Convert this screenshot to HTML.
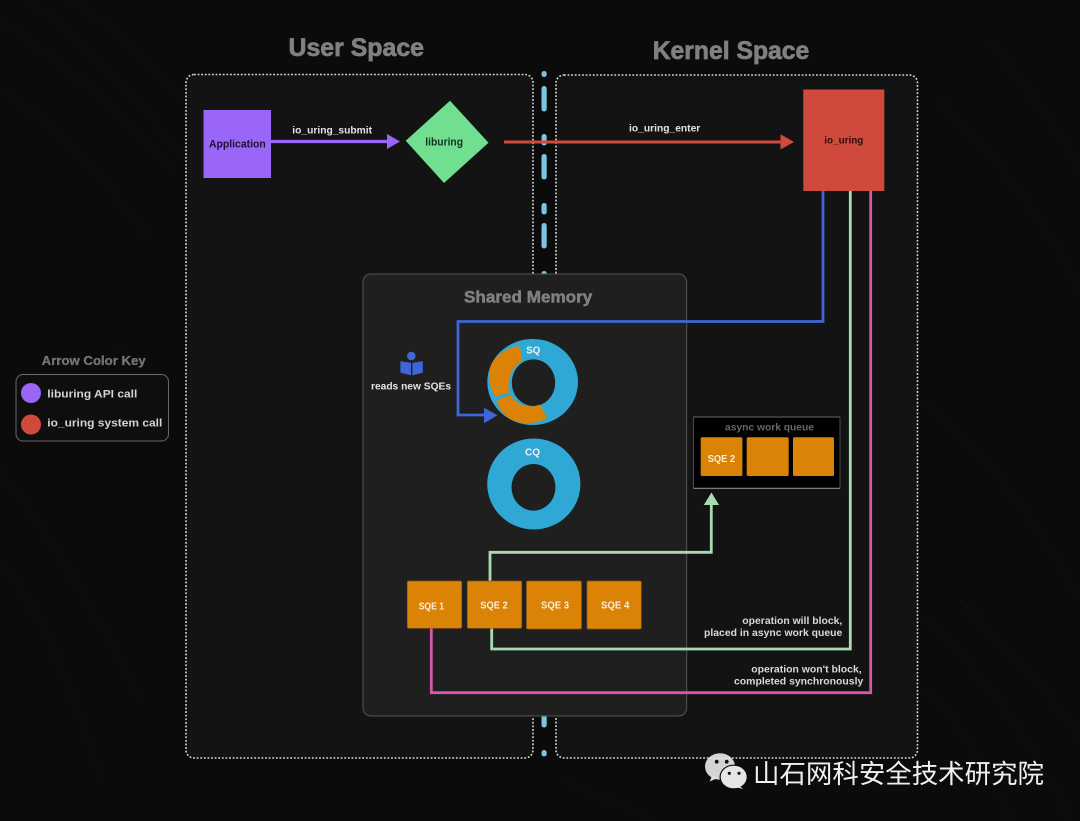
<!DOCTYPE html>
<html>
<head>
<meta charset="utf-8">
<style>
html,body{margin:0;padding:0;background:#0b0b0b;width:1080px;height:821px;overflow:hidden}
svg{display:block;filter:blur(.35px)}
text{font-family:"Liberation Sans","Noto Sans CJK SC",sans-serif;font-weight:700}
.h{stroke:#808080;stroke-width:.7;paint-order:stroke}
</style>
</head>
<body>
<svg width="1080" height="821" viewBox="0 0 1080 821" xmlns="http://www.w3.org/2000/svg">
<rect width="1080" height="821" fill="#0b0b0b"/>
<!-- faint background arcs -->
<g fill="none" stroke="#fff" stroke-opacity=".025" stroke-width="1">
<path d="M0 20C60 60 120 110 170 170"/><path d="M30 0C90 50 140 100 185 160"/><path d="M70 0C120 30 160 70 205 130"/>
<path d="M0 90C50 120 100 170 150 240"/><path d="M0 470C40 520 90 600 140 700"/><path d="M0 560C40 610 70 680 100 780"/>
<path d="M925 620C970 660 1030 730 1070 821"/><path d="M925 690C960 720 990 770 1010 821"/><path d="M960 600C1000 640 1050 690 1080 740"/>
<path d="M940 100C980 140 1040 210 1080 290"/><path d="M990 40C1020 80 1060 130 1080 170"/><path d="M925 400C970 440 1040 520 1080 600"/>
<path d="M120 345C135 365 150 380 170 410"/><path d="M560 780C600 795 630 810 650 821"/>
</g>
<!-- panels -->
<rect x="186" y="74.5" width="347" height="683.5" rx="8" fill="#131313" stroke="#d8d8d8" stroke-width="1.6" stroke-dasharray="1.8 1.8"/>
<rect x="556" y="75" width="361.5" height="683" rx="8" fill="#131313" stroke="#d8d8d8" stroke-width="1.6" stroke-dasharray="1.8 1.8"/>
<!-- centre dashes -->
<g fill="#7cc4df">
<rect x="541.5" y="71" width="5.2" height="6" rx="2.5"/><rect x="541.5" y="86" width="5.2" height="25.5" rx="2.5"/>
<rect x="541.5" y="134" width="5.2" height="11.5" rx="2.5"/><rect x="541.5" y="154" width="5.2" height="25.5" rx="2.5"/>
<rect x="541.5" y="203" width="5.2" height="11.5" rx="2.5"/><rect x="541.5" y="223" width="5.2" height="25.5" rx="2.5"/>
<rect x="541.5" y="271" width="5.2" height="11.5" rx="2.5"/>
<rect x="541.5" y="702" width="5.2" height="25.5" rx="2.5"/><rect x="541.5" y="750" width="5.2" height="6.5" rx="2.5"/>
</g>
<!-- titles -->
<text class="h" x="288.5" y="56" font-size="25" fill="#808080" textLength="135.5" lengthAdjust="spacingAndGlyphs">User Space</text>
<text class="h" x="652.7" y="59" font-size="25" fill="#808080" textLength="156.6" lengthAdjust="spacingAndGlyphs">Kernel Space</text>
<!-- top row -->
<rect x="203.5" y="110" width="67.5" height="68" fill="#9966f8"/>
<text x="209" y="147.7" font-size="11" fill="#1c1330" textLength="56.7" lengthAdjust="spacingAndGlyphs">Application</text>
<path d="M271 141.5H388" stroke="#9966f8" stroke-width="3.2" fill="none"/>
<path d="M387 134L400 141.5L387 149Z" fill="#9966f8"/>
<text x="292.3" y="133.3" font-size="10.5" fill="#e4e4e4" textLength="79.7" lengthAdjust="spacingAndGlyphs">io_uring_submit</text>
<path d="M450 100.7L488.5 142.7L444 183L405.7 140.7Z" fill="#70e090"/>
<text x="425.3" y="145.7" font-size="11" fill="#14301e" textLength="37.7" lengthAdjust="spacingAndGlyphs">liburing</text>
<path d="M504 142H782" stroke="#cf4a3c" stroke-width="3" fill="none"/>
<path d="M780.5 134.2L794 142L780.5 149.5Z" fill="#cf4a3c"/>
<text x="629" y="131.7" font-size="10.5" fill="#e4e4e4" textLength="71.3" lengthAdjust="spacingAndGlyphs">io_uring_enter</text>
<rect x="803.3" y="89.5" width="81" height="101.5" fill="#cf4a3c"/>
<text x="824.3" y="143.3" font-size="10.5" fill="#2a0f0b" font-weight="400" textLength="39" lengthAdjust="spacingAndGlyphs">io_uring</text>
<!-- shared memory -->
<rect x="363" y="274" width="323.7" height="442" rx="8" fill="#1f1f1f" stroke="#555" stroke-width="1"/>
<text class="h" x="464" y="302.7" font-size="16.5" fill="#808080" textLength="128.3" lengthAdjust="spacingAndGlyphs" style="stroke-width:.5">Shared Memory</text>
<!-- donuts -->
<path fill-rule="evenodd" fill="#30a8d6" d="M487.3 382a45.3 43 0 1 0 90.7 0a45.3 43 0 1 0 -90.7 0ZM511.8 382.7a21.7 23.3 0 1 0 43.4 0a21.7 23.3 0 1 0 -43.4 0Z"/>
<path fill="#da8306" stroke="#da8306" stroke-width="1.5" stroke-linejoin="round" d="M519 346.5L521.7 360.5C512 366 506 378 508.3 392L495.5 396C483 372 491 353 519 346.5Z"/>
<path fill="#da8306" stroke="#da8306" stroke-width="1.5" stroke-linejoin="round" d="M497.5 400.8L510 396C516 405 528 410 539.5 405.5L546.2 417.5C530 427 504 424 497.5 400.8Z"/>
<path fill-rule="evenodd" fill="#30a8d6" d="M487.2 484a46.6 45.5 0 1 0 93.2 0a46.6 45.5 0 1 0 -93.2 0ZM511.5 487.3a22 23.3 0 1 0 44 0a22 23.3 0 1 0 -44 0Z"/>
<text x="526.3" y="353.3" font-size="10.5" fill="#f2f2f2" textLength="14" lengthAdjust="spacingAndGlyphs">SQ</text>
<text x="525" y="455.3" font-size="10.5" fill="#f2f2f2" textLength="15" lengthAdjust="spacingAndGlyphs">CQ</text>
<!-- book icon -->
<circle cx="411.3" cy="356" r="4.3" fill="#3f66d6"/>
<path d="M400.7 361.5L410.7 363V375L400.7 372.5Z M412.7 363L422.5 361.5V372.5L412.7 375Z" fill="#3f66d6" stroke="#3f66d6" stroke-width=".6" stroke-linejoin="round"/>
<text x="371" y="389.3" font-size="10.5" fill="#e4e4e4" textLength="80" lengthAdjust="spacingAndGlyphs">reads new SQEs</text>
<!-- async queue -->
<rect x="693.5" y="417" width="146.5" height="71.5" rx="1" fill="#000" stroke="#4a4a4a" stroke-width="1"/>
<path d="M693.5 488.3H840" stroke="#8a8a8a" stroke-width="1"/>
<path d="M693.5 417H840" stroke="#666" stroke-width="1"/>
<text x="725" y="430.3" font-size="10.5" fill="#666" font-weight="400" textLength="89" lengthAdjust="spacingAndGlyphs">async work queue</text>
<g fill="#da8306">
<rect x="700.7" y="437.3" width="41.7" height="38.7" rx="1.5"/>
<rect x="746.7" y="437.3" width="42" height="38.7" rx="1.5"/>
<rect x="793" y="437.3" width="41" height="38.7" rx="1.5"/>
</g>
<text x="707.7" y="462" font-size="10.5" fill="#fbeedd" textLength="27.3" lengthAdjust="spacingAndGlyphs">SQE 2</text>
<!-- connectors -->
<path d="M823 191V321.5H458V415H486" fill="none" stroke="#3f66d6" stroke-width="2.8"/>
<path d="M484 407.7L497.5 415.3L484 423.2Z" fill="#3f66d6"/>
<path d="M850.3 191V649H491.7V628" fill="none" stroke="#a8dcb0" stroke-width="2.8"/>
<path d="M870.7 191V692.7H431.3V627" fill="none" stroke="#d857ac" stroke-width="2.8"/>
<path d="M490 582V552.3H711.3V504" fill="none" stroke="#a8dcb0" stroke-width="2.8"/>
<path d="M703.8 505L711.5 492.5L719 505Z" fill="#a8dcb0"/>
<!-- SQE row -->
<g fill="#da8306" stroke="#8f5a10" stroke-width=".7">
<rect x="407.3" y="581" width="54.4" height="47.3" rx="1.5"/>
<rect x="467.3" y="581" width="54.4" height="47.3" rx="1.5"/>
<rect x="526.5" y="581" width="55" height="48" rx="1.5"/>
<rect x="587" y="581" width="54.3" height="48" rx="1.5"/>
</g>
<g font-size="10.5" fill="#fbeedd">
<text x="418.7" y="609.3" textLength="25.3" lengthAdjust="spacingAndGlyphs">SQE 1</text>
<text x="480.3" y="608.3" textLength="27.4" lengthAdjust="spacingAndGlyphs">SQE 2</text>
<text x="541" y="608.3" textLength="28" lengthAdjust="spacingAndGlyphs">SQE 3</text>
<text x="601" y="608.3" textLength="28.3" lengthAdjust="spacingAndGlyphs">SQE 4</text>
</g>
<!-- notes -->
<g font-size="10.5" fill="#d8d8d8">
<text x="742.3" y="624" textLength="100" lengthAdjust="spacingAndGlyphs">operation will block,</text>
<text x="704" y="636" textLength="138.3" lengthAdjust="spacingAndGlyphs">placed in async work queue</text>
<text x="751.3" y="672.3" textLength="110.4" lengthAdjust="spacingAndGlyphs">operation won't block,</text>
<text x="734" y="684.3" textLength="129.3" lengthAdjust="spacingAndGlyphs">completed synchronously</text>
</g>
<!-- legend -->
<text class="h" x="41.7" y="365" font-size="12.5" fill="#747474" textLength="104" lengthAdjust="spacingAndGlyphs" style="stroke:#747474;stroke-width:.3">Arrow Color Key</text>
<rect x="16" y="374.5" width="152.5" height="66.5" rx="7" fill="#0e0e0e" stroke="#6a6a6a" stroke-width="1"/>
<circle cx="31" cy="393" r="10" fill="#9966f8"/>
<circle cx="31" cy="424.5" r="10" fill="#cf4a3c"/>
<text x="47.3" y="397.7" font-size="11" fill="#d4d4d4" textLength="90" lengthAdjust="spacingAndGlyphs">liburing API call</text>
<text x="47.3" y="426.5" font-size="11" fill="#d4d4d4" textLength="115" lengthAdjust="spacingAndGlyphs">io_uring system call</text>
<!-- watermark -->
<g fill-opacity=".92">
<ellipse cx="720" cy="766.5" rx="15" ry="13.3" fill="#e6e6e6"/>
<path d="M712 776L709.5 781.5L718 778Z" fill="#e6e6e6"/>
</g>
<ellipse cx="733.7" cy="777" rx="14.2" ry="12.4" fill="#0c0c0c"/>
<ellipse cx="733.7" cy="777" rx="13" ry="11.3" fill="#e6e6e6"/>
<path d="M739 786L743.5 789L737 787.5Z" fill="#e6e6e6"/>
<circle cx="716.7" cy="761.7" r="1.9" fill="#111"/><circle cx="726.7" cy="761.7" r="1.9" fill="#111"/>
<circle cx="729.3" cy="773.3" r="1.6" fill="#111"/><circle cx="739" cy="773.3" r="1.6" fill="#111"/>
<text x="753" y="783" font-size="26.4" fill="#f0f0f0" style="font-family:'Noto Sans CJK SC',sans-serif;font-weight:400" textLength="291" lengthAdjust="spacingAndGlyphs">山石网科安全技术研究院</text>
</svg>
</body>
</html>
